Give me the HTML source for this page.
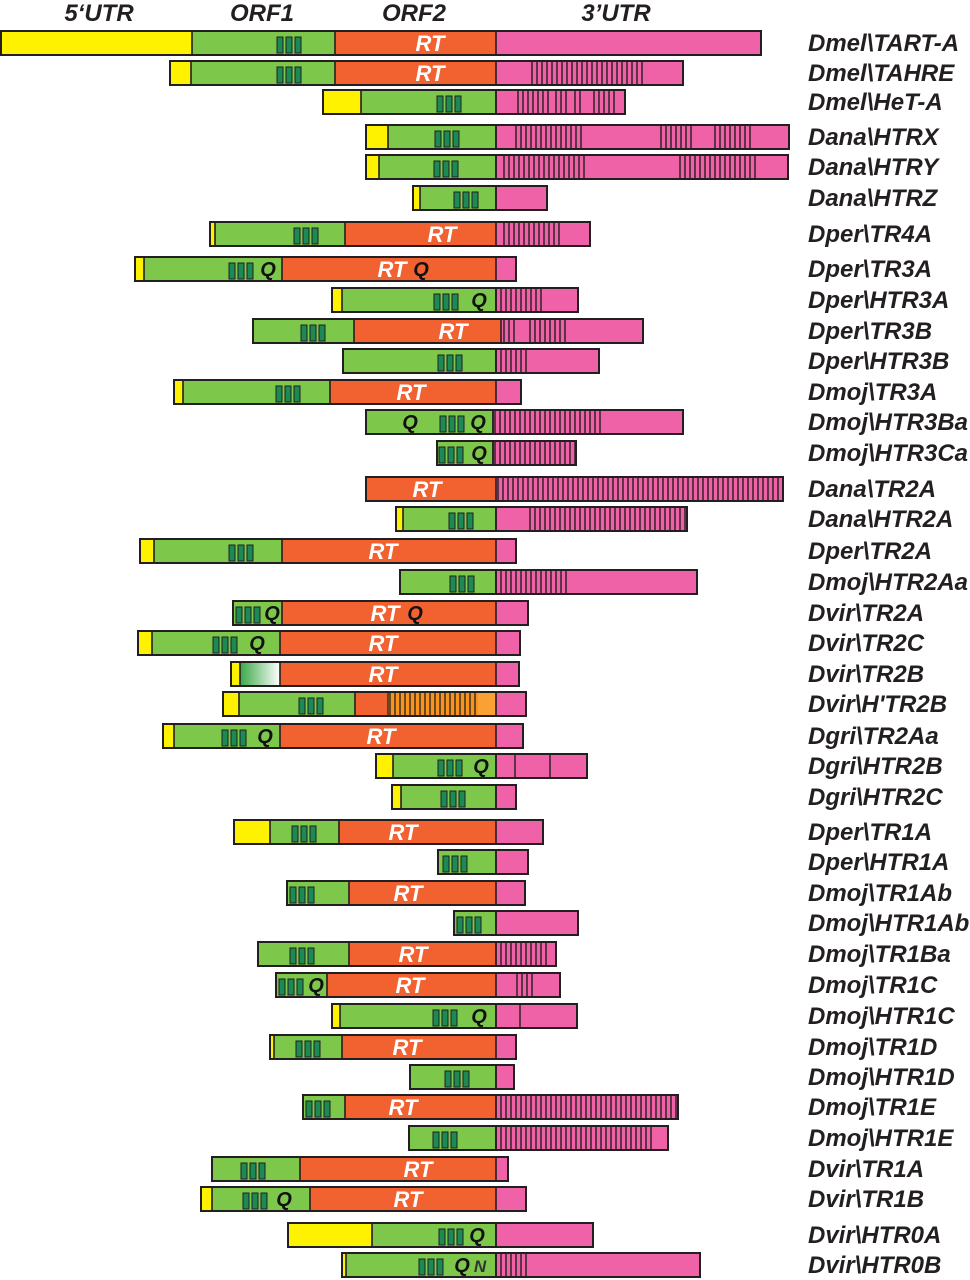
<!DOCTYPE html>
<html><head><meta charset="utf-8"><style>
html,body{margin:0;padding:0;background:#fff;}
svg{display:block;font-family:"Liberation Sans",Arial,sans-serif;}
</style></head><body>
<svg id="fig" width="970" height="1280" viewBox="0 0 970 1280">
<g font-weight="bold" font-style="italic" font-size="24" fill="#231f20" text-anchor="middle">
<text x="99" y="21">5‘UTR</text>
<text x="262" y="21">ORF1</text>
<text x="414" y="21">ORF2</text>
<text x="616" y="21">3’UTR</text>
</g>
<g id="rows"></g>
</svg>
<script>
const names=["Dmel\\TART-A","Dmel\\TAHRE","Dmel\\HeT-A","Dana\\HTRX","Dana\\HTRY","Dana\\HTRZ","Dper\\TR4A","Dper\\TR3A","Dper\\HTR3A","Dper\\TR3B","Dper\\HTR3B","Dmoj\\TR3A","Dmoj\\HTR3Ba","Dmoj\\HTR3Ca","Dana\\TR2A","Dana\\HTR2A","Dper\\TR2A","Dmoj\\HTR2Aa","Dvir\\TR2A","Dvir\\TR2C","Dvir\\TR2B","Dvir\\H'TR2B","Dgri\\TR2Aa","Dgri\\HTR2B","Dgri\\HTR2C","Dper\\TR1A","Dper\\HTR1A","Dmoj\\TR1Ab","Dmoj\\HTR1Ab","Dmoj\\TR1Ba","Dmoj\\TR1C","Dmoj\\HTR1C","Dmoj\\TR1D","Dmoj\\HTR1D","Dmoj\\TR1E","Dmoj\\HTR1E","Dvir\\TR1A","Dvir\\TR1B","Dvir\\HTR0A","Dvir\\HTR0B"];
const ys=[43,73,102,137,167,198,234,269,300,331,361,392,422,453,489,519,551,582,613,643,674,704,736,766,797,832,862,893,923,954,985,1016,1047,1077,1107,1138,1169,1199,1235,1265];
const starts=[1,170,323,366,366,413,210,135,332,253,343,174,366,437,366,396,140,400,233,138,231,223,163,376,392,234,438,287,454,258,276,332,270,410,303,409,212,201,288,342];
const yEnds=[192,191,361,388,379,420,215,144,342,253,343,183,366,437,366,403,154,400,233,152,240,239,174,393,401,270,438,287,454,258,276,340,274,410,303,409,212,212,372,346];
const gEnds=[335,335,496,496,496,496,345,282,496,354,496,330,493,493,366,496,282,496,282,280,280,355,280,496,496,339,496,349,496,349,327,496,342,496,345,496,300,310,496,496];
const pStarts=[496,496,496,496,496,496,496,496,496,501,496,496,493,493,496,496,496,496,496,496,496,496,496,496,496,496,496,496,496,496,496,496,496,496,496,496,496,496,496,496];
const ends=[761,683,625,789,788,547,590,516,578,643,599,521,683,576,783,687,516,697,528,520,519,526,523,587,516,543,528,525,578,556,560,577,516,514,678,668,508,526,593,700];
const hatches=[[],[[532,642]],[[518,548],[556,570],[575,580],[594,615]],[[516,585],[661,691],[715,752]],[[504,588],[680,755]],[],[[504,563]],[],[[496,543]],[[504,518],[530,565]],[[496,530]],[],[[495,600]],[[495,576]],[[498,783]],[[530,687]],[],[[496,568]],[],[],[],[],[],[[515,515],[550,550]],[],[],[],[],[],[[496,550]],[[517,533]],[[520,520]],[],[],[[496,678]],[[496,655]],[],[],[],[[496,530]]];
const marks=[277,277,437,435,434,454,294,229,434,301,438,276,440,439,null,449,229,450,236,213,null,299,222,438,441,292,443,290,457,290,279,433,296,445,306,433,241,243,439,419];
const qs=[[],[],[],[],[],[],[],[268,421],[479],[],[],[],[410,478],[479],[],[],[],[],[272,415],[257],[],[],[265],[481],[],[],[],[],[],[],[316],[479],[],[],[],[],[],[284],[477],[462]];
const rts=[430,430,null,null,null,null,442,392,null,453,null,411,null,null,427,null,383,null,385,383,383,null,381,null,null,403,null,408,null,413,410,null,407,null,403,null,418,408,null,null];
const C={y:"#fff200",g:"#7dc74a",o:"#f26130",p:"#f062a8",k:"#231f20",m:"#1b8a55"};
const NS="http://www.w3.org/2000/svg";
const root=document.getElementById("rows");
function el(t,a,p){const e=document.createElementNS(NS,t);for(const k in a)e.setAttribute(k,a[k]);p.appendChild(e);return e;}
const H=24;
names.forEach((n,i)=>{
  const g=el("g",{},root);
  
  
  const top=ys[i]-H/2, s=starts[i], ye=yEnds[i], ge=gEnds[i], ps=pStarts[i], e=ends[i];
  if(ye>s){const r=el("rect",{x:s,y:top,width:ye-s,height:H,fill:C.y},g);
    
    }
  if(ge>ye){let fill=C.g;
    if(i===20){const gr=el("linearGradient",{id:"gfade",x1:"0",x2:"1",y1:"0",y2:"0"},g);
      el("stop",{offset:"0",'stop-color':"#3aa845"},gr);el("stop",{offset:"1",'stop-color':"#ffffff"},gr);fill="url(#gfade)";}
    const r=el("rect",{x:ye,y:top,width:ge-ye,height:H,fill:fill},g);
    
    }
  if(ps>ge){const r=el("rect",{x:ge,y:top,width:ps-ge,height:H,fill:C.o},g);
    
    }
  if(i===21){el("rect",{x:388,y:top,width:90,height:H,fill:"#f7941d"},g);
    el("rect",{x:478,y:top,width:18,height:H,fill:"#f9a134"},g);
    for(let x=390;x<478;x+=5)el("line",{x1:x,x2:x,y1:top,y2:top+H,stroke:C.k,'stroke-width':1.3},g);}
  const pr=el("rect",{x:ps,y:top,width:e-ps,height:H,fill:C.p},g);
  
  
  [ye,ge,ps].forEach(x=>{if(x>s&&x<e)el("line",{x1:x,x2:x,y1:top,y2:top+H,stroke:C.k,'stroke-width':1.6},g);});
  if(i===21)el("line",{x1:388,x2:388,y1:top,y2:top+H,stroke:C.k,'stroke-width':1.3},g);
  hatches[i].forEach(h=>{
    if(h[0]===h[1]){el("line",{x1:h[0],x2:h[0],y1:top,y2:top+H,stroke:C.k,'stroke-width':1.4},g);return;}
    for(let x=h[0];x<=h[1];x+=5)el("line",{x1:x,x2:x,y1:top,y2:top+H,stroke:C.k,'stroke-width':1.4},g);
  });
  el("rect",{x:s,y:top,width:e-s,height:H,fill:"none",stroke:C.k,'stroke-width':2},g);
  if(marks[i]!==null){for(let k=0;k<3;k++){const m=el("rect",{x:marks[i]+k*9,y:top+6,width:6,height:H-8,fill:C.m,stroke:C.k,'stroke-width':1},g);
    
    }}
  qs[i].forEach(x=>{const t=el("text",{x:x,y:ys[i]+7,'font-size':20,'font-weight':"bold",'font-style':"italic",fill:"#111",'text-anchor':"middle"},g);t.textContent="Q";
    
    });
  if(i===39){const t=el("text",{x:480,y:ys[i]+7,'font-size':17,'font-weight':"bold",'font-style':"italic",fill:"#333",'text-anchor':"middle"},g);t.textContent="N";
    
    }
  if(rts[i]!==null){const t=el("text",{x:rts[i],y:ys[i]+8,'font-size':22,'font-weight':"bold",'font-style':"italic",fill:"#fff",'text-anchor':"middle"},g);t.textContent="RT";
    
    }
  const lb=el("text",{x:808,y:ys[i]+8,'font-size':24,'font-weight':"bold",'font-style':"italic",fill:C.k},g);lb.textContent=n;
  
  
});
</script>
</body></html>
